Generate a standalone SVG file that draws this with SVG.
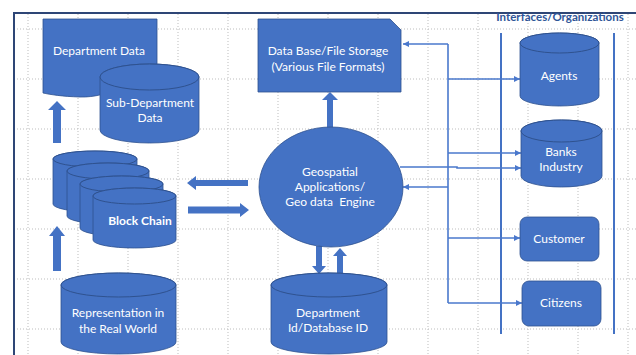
<svg xmlns="http://www.w3.org/2000/svg" width="636" height="355" viewBox="0 0 636 355">
  <style>
    .grid { stroke: #bdbdbd; stroke-width: 1; stroke-dasharray: 1 2; fill: none; }
    .frame { stroke: #2E4676; stroke-width: 2; fill: none; }
    .shape { fill: #4472C4; stroke: #2F528F; stroke-width: 0.8; }
    .lid { fill: #4472C4; stroke: #2F528F; stroke-width: 1; }
    .blk { fill: #4472C4; stroke: none; }
    .conn { stroke: #4A78CC; stroke-width: 1.6; fill: none; }
    .lane { stroke: #4472C4; stroke-width: 2; fill: none; }
    .lbl { font-family: Lato, "Liberation Sans", sans-serif; font-size: 12px; fill: #ffffff; text-anchor: middle; white-space: pre; }
    .bold { font-weight: bold; }
    .title { font-family: Lato, "Liberation Sans", sans-serif; font-size: 11.5px; font-weight: bold; fill: #2F5597; text-anchor: middle; }
  </style>
  <defs>
    <marker id="ah" markerUnits="userSpaceOnUse" markerWidth="7" markerHeight="7" refX="6" refY="3" orient="auto">
      <path d="M0,0 L6,3 L0,6 Z" fill="#4A78CC"/>
    </marker>
  </defs>

  <rect width="636" height="355" fill="#ffffff"/>

  <!-- dotted background grid -->
  <g id="grid" class="grid">
    <path d="M14,29 H636 M14,79 H636 M14,129 H636 M14,179 H636 M14,229 H636 M14,279 H636 M14,329 H636"/>
    <path d="M28,14 V355 M78,14 V355 M128,14 V355 M178,14 V355 M228,14 V355 M278,14 V355 M328,14 V355 M378,14 V355 M428,14 V355 M478,14 V355 M528,14 V355 M578,14 V355 M628,14 V355"/>
  </g>

  <!-- page frame -->
  <path class="frame" d="M14,355 V13 H636"/>

  <!-- swimlane for interfaces -->
  <g id="lane">
    <text class="title" x="560" y="21">Interfaces/Organizations</text>
    <path class="lane" d="M501,33 V334 M614,33 V334"/>
  </g>

  <!-- connectors -->
  <g id="connectors">
    <!-- thick block arrows -->
    <path class="blk" d="M53,143 V110 H48 L57,101 L66,110 H61 V143 Z"/>
    <path class="blk" d="M53,271 V236 H49 L57,226 L65,236 H61 V271 Z"/>
    <path class="blk" d="M248,180 H196 V176 L187,183 L196,190 V186 H248 Z"/>
    <path class="blk" d="M188,206.5 H240 V203 L249,210 L240,217 V213.5 H188 Z"/>
    <path class="blk" d="M327,128 V100 H322 L330,92 L338,100 H333 V128 Z"/>
    <path class="blk" d="M316,246 V266 H312 L319,274 L326,266 H322 V246 Z"/>
    <path class="blk" d="M337,274 V256 H333 L340,248 L347,256 H343 V274 Z"/>
    <!-- thin routed lines -->
    <path class="conn" d="M448,44 V303"/>
    <path class="conn" marker-end="url(#ah)" d="M448,44 H403"/>
    <path class="conn" marker-end="url(#ah)" d="M448,79 H520"/>
    <path class="conn" marker-end="url(#ah)" d="M448,153 H521"/>
    <path class="conn" marker-end="url(#ah)" d="M400,167 H457 V168 H521"/>
    <path class="conn" marker-end="url(#ah)" d="M448,187 H403"/>
    <path class="conn" marker-end="url(#ah)" d="M448,238 H520"/>
    <path class="conn" marker-end="url(#ah)" d="M448,303 H522"/>
  </g>

  <!-- Department Data (document) -->
  <g id="dept-data">
    <path class="shape" d="M43,19 H157 V86 C130,79 110,98 80,97 C62,96.5 50,94.5 43,93 Z"/>
    <text class="lbl" x="99" y="55">Department Data</text>
  </g>

  <!-- Sub-Department Data (cylinder) -->
  <g id="sub-dept">
    <path class="shape" d="M100,77 V130 A49.5,13 0 0 0 199,130 V77 A49.5,13 0 0 0 100,77 Z"/>
    <ellipse class="lid" cx="149.5" cy="77" rx="49.5" ry="13"/>
    <text class="lbl" x="150" y="107">Sub-Department</text>
    <text class="lbl" x="150" y="122">Data</text>
  </g>

  <!-- Block Chain (stacked cylinders) -->
  <g id="block-chain">
    <path class="shape" d="M53,159 V204 A42,8 0 0 0 137,204 V159 A42,8 0 0 0 53,159 Z"/>
    <ellipse class="lid" cx="95" cy="159" rx="42" ry="8"/>
    <path class="shape" d="M67,171 V216 A41,8 0 0 0 149,216 V171 A41,8 0 0 0 67,171 Z"/>
    <ellipse class="lid" cx="108" cy="171" rx="41" ry="8"/>
    <path class="shape" d="M80,184 V228 A41.5,8 0 0 0 163,228 V184 A41.5,8 0 0 0 80,184 Z"/>
    <ellipse class="lid" cx="121.5" cy="184" rx="41.5" ry="8"/>
    <path class="shape" d="M93,196 V240 A41.5,8 0 0 0 176,240 V196 A41.5,8 0 0 0 93,196 Z"/>
    <ellipse class="lid" cx="134.5" cy="196" rx="41.5" ry="8"/>
    <text class="lbl bold" x="140" y="225">Block Chain</text>
  </g>

  <!-- Representation in the Real World (cylinder) -->
  <g id="real-world">
    <path class="shape" d="M61,285 V342 A57.5,12 0 0 0 176,342 V285 A57.5,12 0 0 0 61,285 Z"/>
    <ellipse class="lid" cx="118.5" cy="285" rx="57.5" ry="12"/>
    <text class="lbl" x="118" y="317">Representation in</text>
    <text class="lbl" x="118" y="333">the Real World</text>
  </g>

  <!-- Data Base/File Storage (snipped rectangle) -->
  <g id="storage">
    <path class="shape" d="M258,19 H390 L401,30 V92 H258 Z"/>
    <text class="lbl" x="328" y="55">Data Base/File Storage</text>
    <text class="lbl" x="328" y="71">(Various File Formats)</text>
  </g>

  <!-- Geospatial engine (ellipse) -->
  <g id="geo-engine">
    <ellipse class="shape" cx="331" cy="187" rx="72" ry="60"/>
    <text class="lbl" x="330" y="176">Geospatial</text>
    <text class="lbl" x="330" y="191">Applications/</text>
    <text class="lbl" x="330" y="206">Geo data  Engine</text>
  </g>

  <!-- Department Id/Database ID (cylinder) -->
  <g id="dept-id">
    <path class="shape" d="M271,285 V342 A58,12 0 0 0 387,342 V285 A58,12 0 0 0 271,285 Z"/>
    <ellipse class="lid" cx="329" cy="285" rx="58" ry="12"/>
    <text class="lbl" x="328" y="317">Department</text>
    <text class="lbl" x="328" y="332">Id/Database ID</text>
  </g>

  <!-- Agents (cylinder) -->
  <g id="agents">
    <path class="shape" d="M520,43 V96 A39.5,10 0 0 0 599,96 V43 A39.5,10 0 0 0 520,43 Z"/>
    <ellipse class="lid" cx="559.5" cy="43" rx="39.5" ry="10"/>
    <text class="lbl" x="559" y="80">Agents</text>
  </g>

  <!-- Banks Industry (cylinder) -->
  <g id="banks">
    <path class="shape" d="M521,131 V176 A40.5,11 0 0 0 602,176 V131 A40.5,11 0 0 0 521,131 Z"/>
    <ellipse class="lid" cx="561.5" cy="131" rx="40.5" ry="11"/>
    <text class="lbl" x="561" y="156">Banks</text>
    <text class="lbl" x="561" y="171">Industry</text>
  </g>

  <!-- Customer -->
  <g id="customer">
    <rect class="shape" x="520" y="217" width="79" height="44" rx="7"/>
    <text class="lbl" x="559" y="243">Customer</text>
  </g>

  <!-- Citizens -->
  <g id="citizens">
    <rect class="shape" x="522" y="281" width="79" height="45" rx="7"/>
    <text class="lbl" x="561" y="307">Citizens</text>
  </g>
</svg>
